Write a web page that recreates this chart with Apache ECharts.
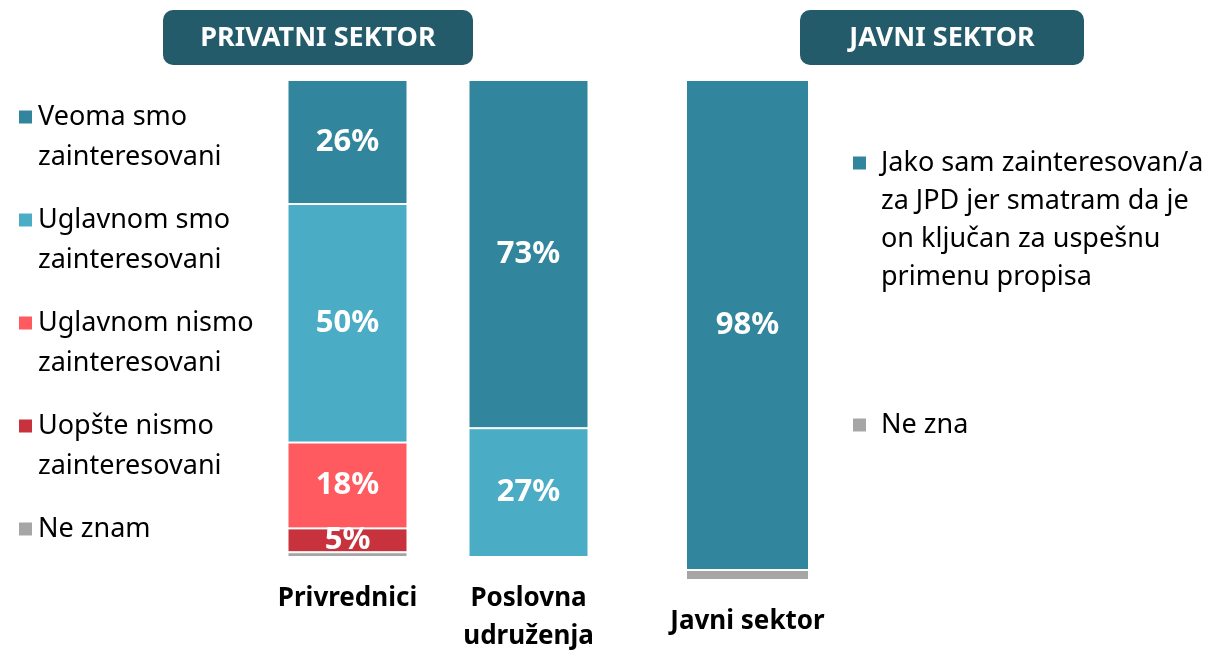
<!DOCTYPE html>
<html>
<head>
<meta charset="utf-8">
<script src="https://cdn.jsdelivr.net/npm/echarts@6/dist/echarts.min.js"></script>
<style>
  html, body { margin: 0; padding: 0; background: #fff; }
  #main { width: 1211px; height: 651px; }
</style>
</head>
<body>
<div id="main"></div>
<script>
// privatni sektor
var privCategories = ['Privrednici', 'Poslovna\nudruženja']
var veomaSmo = [26, 73]
var uglavnomSmo = [50, 27]
var uglavnomNismo = [18, 0]
var uopsteNismo = [5, 0]
var neZnam = [1, 0]

// javni sektor
var javniCategories = ['Javni sektor']
var jakoSam = [98]
var neZna = [2]

var colors = {
  veoma: '#31859c',
  uglavnom: '#4bacc6',
  nismo: '#ff5a5f',
  uopste: '#c8323c',
  neZnam: '#a6a6a6',
  header: '#245b6b',
}

var font = 'Noto Sans'

var chart = echarts.init(document.getElementById('main'))

function pct(p) {
  return p.value > 0 ? p.value + '%' : ''
}

var barLabel = {
  show: true,
  formatter: pct,
  color: '#fff',
  fontFamily: font,
  fontWeight: 'bold',
  fontSize: 31,
}

function bar(name, data, color, xi, width, label) {
  return {
    name: name,
    type: 'bar',
    stack: 'g' + xi,
    xAxisIndex: xi,
    yAxisIndex: xi,
    barWidth: width,
    data: data,
    itemStyle: { color: color, borderColor: '#fff', borderWidth: 1 },
    label: label === false ? { show: false } : barLabel,
    emphasis: { disabled: true },
  }
}

var catAxisLabel = {
  color: '#000',
  fontFamily: font,
  fontWeight: 'bold',
  fontSize: 26,
  lineHeight: 38,
  margin: 23,
  interval: 0,
}

// pad legend text with empty lines so the icon sits next to the first line
function padLines(total) {
  return function (name) {
    var n = name.split('\n').length
    return '\n'.repeat(total - 1) + name + '\n'.repeat(total - n)
  }
}

var option = {
  animation: false,
  graphic: [
    {
      type: 'rect',
      shape: { x: 163, y: 10, width: 310, height: 55, r: 10 },
      style: { fill: colors.header },
    },
    {
      type: 'text',
      x: 318, y: 38,
      style: { text: 'PRIVATNI SEKTOR', fill: '#fff', font: 'bold 27px "Noto Sans"', align: 'center', verticalAlign: 'middle' },
    },
    {
      type: 'rect',
      shape: { x: 800, y: 10, width: 284, height: 55, r: 10 },
      style: { fill: colors.header },
    },
    {
      type: 'text',
      x: 942, y: 38,
      style: { text: 'JAVNI SEKTOR', fill: '#fff', font: 'bold 27px "Noto Sans"', align: 'center', verticalAlign: 'middle' },
    },
  ],
  legend: [
    {
      orient: 'vertical',
      left: 12,
      top: 52,
      itemWidth: 15,
      itemHeight: 15,
      itemGap: -17,
      icon: 'rect',
      selectedMode: false,
      formatter: padLines(2),
      textStyle: { fontFamily: font, fontSize: 27, lineHeight: 40, color: '#000' },
      data: [
        'Veoma smo\nzainteresovani',
        'Uglavnom smo\nzainteresovani',
        'Uglavnom nismo\nzainteresovani',
        'Uopšte nismo\nzainteresovani',
        'Ne znam',
      ],
    },
    {
      orient: 'vertical',
      left: 846,
      top: 158 - 133,
      itemWidth: 15,
      itemHeight: 15,
      itemGap: -4,
      icon: 'rect',
      selectedMode: false,
      formatter: padLines(4),
      textStyle: { fontFamily: font, fontSize: 27, lineHeight: 38, color: '#000', padding: [0, 0, 0, 9] },
      data: [
        'Jako sam zainteresovan/a\nza JPD jer smatram da je\non ključan za uspešnu\nprimenu propisa',
        'Ne zna',
      ],
    },
  ],
  // outerBoundsMode none: keep the plot size even if the 2-line label runs past the bottom
  grid: [
    { left: 257, width: 362, top: 80, height: 477, outerBoundsMode: 'none' },
    { left: 657, width: 181, top: 80, height: 500, outerBoundsMode: 'none' },
  ],
  xAxis: [
    {
      type: 'category', gridIndex: 0, data: privCategories,
      axisLine: { show: false }, axisTick: { show: false }, axisLabel: catAxisLabel,
    },
    {
      type: 'category', gridIndex: 1, data: javniCategories,
      axisLine: { show: false }, axisTick: { show: false }, axisLabel: catAxisLabel,
    },
  ],
  yAxis: [
    { type: 'value', gridIndex: 0, min: 0, max: 100, show: false },
    { type: 'value', gridIndex: 1, min: 0, max: 100, show: false },
  ],
  series: [
    bar('Ne znam', neZnam, colors.neZnam, 0, 120, false),
    bar('Uopšte nismo\nzainteresovani', uopsteNismo, colors.uopste, 0, 120),
    bar('Uglavnom nismo\nzainteresovani', uglavnomNismo, colors.nismo, 0, 120),
    bar('Uglavnom smo\nzainteresovani', uglavnomSmo, colors.uglavnom, 0, 120),
    bar('Veoma smo\nzainteresovani', veomaSmo, colors.veoma, 0, 120),
    bar('Ne zna', neZna, colors.neZnam, 1, 123, false),
    bar('Jako sam zainteresovan/a\nza JPD jer smatram da je\non ključan za uspešnu\nprimenu propisa', jakoSam, colors.veoma, 1, 123),
  ],
}

chart.setOption(option)
</script>
</body>
</html>
